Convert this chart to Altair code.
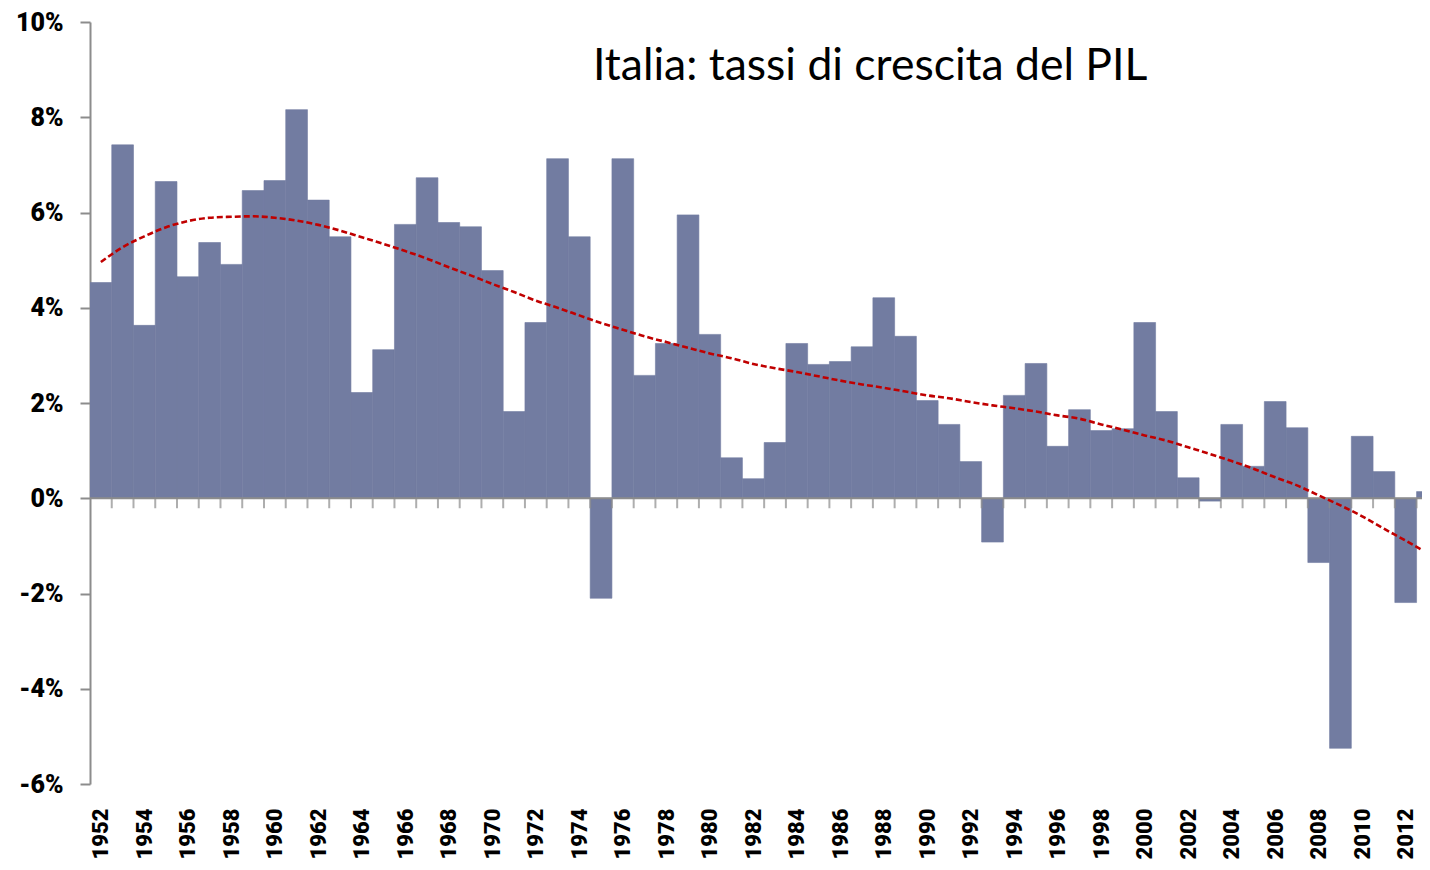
import altair as alt
import pandas as pd

years = list(range(1952, 2014))
growth = [4.53, 7.42, 3.63, 6.65, 4.65, 5.37, 4.91, 6.46, 6.67, 8.16,
          6.26, 5.49, 2.22, 3.12, 5.75, 6.73, 5.79, 5.70, 4.78, 1.82,
          3.69, 7.13, 5.49, -2.10, 7.13, 2.58, 3.25, 5.95, 3.44, 0.85,
          0.41, 1.17, 3.25, 2.81, 2.87, 3.18, 4.21, 3.40, 2.05, 1.55,
          0.77, -0.92, 2.16, 2.83, 1.09, 1.86, 1.42, 1.46, 3.69, 1.82,
          0.43, -0.06, 1.55, 0.67, 2.03, 1.48, -1.35, -5.25, 1.30, 0.56,
          -2.19, 0.14]
trend = [4.96, 5.27, 5.50, 5.69, 5.82, 5.89, 5.91, 5.92, 5.89, 5.83,
         5.74, 5.62, 5.48, 5.34, 5.19, 5.03, 4.85, 4.68, 4.50, 4.33,
         4.15, 4.00, 3.84, 3.68, 3.54, 3.40, 3.28, 3.16, 3.04, 2.94,
         2.82, 2.73, 2.65, 2.56, 2.47, 2.39, 2.32, 2.24, 2.16, 2.10,
         2.02, 1.95, 1.89, 1.82, 1.74, 1.67, 1.55, 1.44, 1.32, 1.21,
         1.07, 0.93, 0.78, 0.62, 0.44, 0.27, 0.06, -0.15, -0.38, -0.64,
         -0.89, -1.15]
label_years = list(range(1952, 2013, 2))
y_ticks = [-6, -4, -2, 0, 2, 4, 6, 8, 10]
title_text = "Italia: tassi di crescita del PIL"

df = pd.DataFrame({"year": years, "growth": growth, "trend": trend})

W, H = 1332, 762
x_dom = [1951.5, 2012.75]
xs = alt.Scale(domain=x_dom, nice=False, zero=False)
ys = alt.Scale(domain=[-6, 10], nice=False, zero=False)

AX_GRAY = "#8c8c8c"
BAR = "#727ca1"
LABEL_FONT = "Roboto"

base = alt.Chart(df)

bars = base.transform_calculate(
    x0="datum.year - 0.5", x1="datum.year + 0.5"
).mark_bar(color=BAR, stroke=BAR, strokeWidth=0.6, clip=True).encode(
    x=alt.X("x0:Q", scale=xs, axis=alt.Axis(
        values=label_years, format="d", title=None, domain=False,
        ticks=False, tickSize=0, grid=False, labelAngle=270,
        labelPadding=24, labelFont=LABEL_FONT, labelFontSize=22,
        labelFontWeight=900, labelColor="#000000", labelFlush=False,
        labelOverlap=False, labelBound=False)),
    x2="x1:Q",
    y=alt.Y("growth:Q", scale=ys, axis=alt.Axis(
        values=y_ticks, labelExpr="datum.value + '%'", title=None,
        grid=False, domainColor=AX_GRAY, domainWidth=2, tickColor=AX_GRAY,
        tickWidth=2, tickSize=10, labelPadding=17, labelFont=LABEL_FONT,
        labelFontSize=25, labelFontWeight=900, labelColor="#000000")),
    y2=alt.datum(0),
)

zero_line = alt.Chart(pd.DataFrame({"v": [0]})).mark_rule(
    color=AX_GRAY, strokeWidth=2
).encode(y=alt.Y("v:Q", scale=ys))

tick_marks = base.transform_filter("datum.year < 2013").transform_calculate(
    xb="datum.year + 0.5", zero="0"
).mark_tick(color=AX_GRAY, thickness=2, size=10, orient="vertical",
            yOffset=5, clip=True).encode(
    x=alt.X("xb:Q", scale=xs),
    y=alt.Y("zero:Q", scale=ys),
)

trend_line = base.mark_line(
    color="#c00000", strokeWidth=2.6, strokeDash=[6, 3], clip=True,
    interpolate="monotone"
).encode(
    x=alt.X("year:Q", scale=xs),
    y=alt.Y("trend:Q", scale=ys),
)

title = alt.Chart(pd.DataFrame({"t": [title_text]})).mark_text(
    align="left", baseline="alphabetic", font="Lato", fontSize=44.5,
    color="#000000"
).encode(x=alt.value(503), y=alt.value(58), text="t:N")

chart = alt.layer(bars, zero_line, tick_marks, trend_line, title).properties(
    width=W, height=H,
    autosize=alt.AutoSizeParams(type="none"),
    padding={"left": 82, "top": 14, "right": 0, "bottom": 75},
    view=alt.ViewBackground(stroke="transparent", strokeWidth=0),
).configure_view(strokeWidth=0, stroke="transparent").configure_axis(
    grid=False
).configure(background="#ffffff")

chart.save("out.html", embed_options={"renderer": "svg", "actions": False})
